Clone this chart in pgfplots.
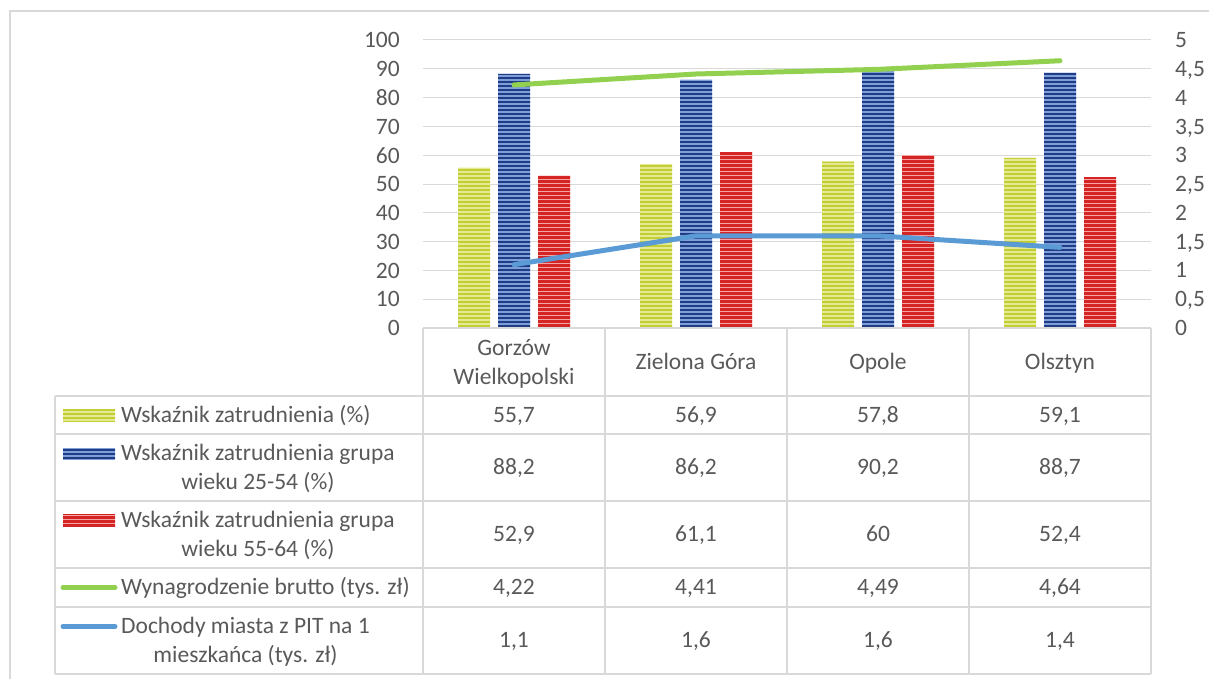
\documentclass[border=0pt]{standalone}
\usepackage{fontspec}
\setmainfont{Carlito}
\usepackage{pgfplots}
\pgfplotsset{compat=1.18}
\usetikzlibrary{patterns}
\definecolor{gridc}{HTML}{D9D9D9}
\definecolor{txt}{HTML}{595959}
\definecolor{yelL}{HTML}{E4EA94}
\definecolor{yelD}{HTML}{C3CE34}
\definecolor{bluL}{HTML}{7E9EDA}
\definecolor{bluD}{HTML}{203C84}
\definecolor{redL}{HTML}{F5A3A3}
\definecolor{redD}{HTML}{D42424}
\definecolor{lgreen}{HTML}{92D050}
\definecolor{lblue}{HTML}{5B9BD5}
\pgfdeclarepatternformonly{stripesA}{\pgfpoint{-1pt}{0pt}}{\pgfpoint{201pt}{4pt}}{\pgfpoint{200pt}{4pt}}{\pgfpathrectangle{\pgfpoint{-1pt}{0pt}}{\pgfpoint{202pt}{2.4pt}}\pgfusepath{fill}}
\pgfdeclarepatternformonly{stripesB}{\pgfpoint{-1pt}{0pt}}{\pgfpoint{201pt}{4pt}}{\pgfpoint{200pt}{4pt}}{\pgfpathrectangle{\pgfpoint{-1pt}{0pt}}{\pgfpoint{202pt}{2.6pt}}\pgfusepath{fill}}
\pgfdeclarepatternformonly{stripesC}{\pgfpoint{-1pt}{0pt}}{\pgfpoint{201pt}{4pt}}{\pgfpoint{200pt}{4pt}}{\pgfpathrectangle{\pgfpoint{-1pt}{0pt}}{\pgfpoint{202pt}{2.3pt}}\pgfusepath{fill}}
\newcommand\tf{\fontsize{23.5}{28}\selectfont}
\tikzset{
 barY/.style={fill=yelL, draw=none, postaction={pattern=stripesA, pattern color=yelD}},
 barB/.style={fill=bluL, draw=none, postaction={pattern=stripesC, pattern color=bluD}},
 barR/.style={fill=redL, draw=none, postaction={pattern=stripesB, pattern color=redD}},
 lnG/.style={draw=lgreen, line width=5pt, line cap=round, line join=round},
 lnB/.style={draw=lblue, line width=5pt, line cap=round, line join=round},
}
\begin{document}
\begin{tikzpicture}
\useasboundingbox (0pt,0pt) rectangle (1209pt,-679pt);
\draw[gridc, line width=1.5pt] (10pt,-679pt) -- (10pt,-11pt) -- (1209pt,-11pt);
\begin{axis}[at={(423pt,-328pt)}, anchor=south west, scale only axis,
  width=728pt, height=288pt, xmin=-0.5, xmax=3.5, ymin=0, ymax=100,
  ytick={0,10,...,100}, xtick=\empty, ymajorgrids,
  grid style={draw=gridc, line width=1pt},
  axis line style={draw=none}, major tick length=0pt,
  ybar=8pt, bar width=32pt,
  /pgf/number format/assume math mode=true,
  yticklabel style={font=\tf, text=txt, inner sep=0pt, anchor=east, xshift=-23pt, text depth=0pt},
  clip=false]
\addplot[barY] coordinates {(0,55.7) (1,56.9) (2,57.8) (3,59.1)};
\addplot[barB] coordinates {(0,88.2) (1,86.2) (2,90.2) (3,88.7)};
\addplot[barR] coordinates {(0,52.9) (1,61.1) (2,60) (3,52.4)};
\end{axis}
\begin{axis}[at={(423pt,-328pt)}, anchor=south west, scale only axis,
  width=728pt, height=288pt, xmin=-0.5, xmax=3.5, ymin=0, ymax=5,
  axis y line*=right, axis x line=none, xtick=\empty,
  axis line style={draw=none}, major tick length=0pt,
  ytick={0,0.5,1,1.5,2,2.5,3,3.5,4,4.5,5},
  yticklabels={0,{0,5},1,{1,5},2,{2,5},3,{3,5},4,{4,5},5},
  yticklabel style={font=\tf, text=txt, inner sep=0pt, anchor=west, xshift=24pt, text depth=0pt},
  clip=false]
\addplot[lnG] coordinates {(0,4.22) (1,4.41) (2,4.49) (3,4.64)};
\addplot[lnB] coordinates {(0,1.1) (1,1.6) (2,1.6) (3,1.4)};
\end{axis}
\begin{scope}[x=1pt,y=-1pt]
\draw[gridc, line width=1.5pt] (423,328) -- (1151,328);
\foreach \yy in {396,434,501,568,607,674} \draw[gridc, line width=1.5pt] (55,\yy) -- (1151,\yy);
\draw[gridc, line width=1.5pt] (55,396) -- (55,674);
\foreach \xx in {423,605,787,969,1151} \draw[gridc, line width=1.5pt] (\xx,328) -- (\xx,674);
% legend keys
\path[barY] (63,409) rectangle (115,421);
\path[barB] (63,447.5) rectangle (115,459.5);
\path[barR] (63,514.5) rectangle (115,526.5);
\draw[lnG] (63,587.5) -- (115,587.5);
\draw[lnB] (63,626.5) -- (115,626.5);
\begin{scope}[every node/.style={font=\tf, text=txt, inner sep=0pt, anchor=base}]
% header
\node at (514,355.5) {Gorzów};
\node at (514,384) {Wielkopolski};
\node at (696,369.5) {Zielona Góra};
\node at (878,369.5) {Opole};
\node at (1060,369.5) {Olsztyn};
% legend texts
\node[anchor=base west] at (121,422) {Wskaźnik zatrudnienia (\%)};
\node[anchor=base west] (r2) at (121,460.5) {Wskaźnik zatrudnienia grupa};
\path (r2.base) ++(0,28.5) node {wieku 25-54 (\%)};
\node[anchor=base west] (r3) at (121,527.5) {Wskaźnik zatrudnienia grupa};
\path (r3.base) ++(0,28.5) node {wieku 55-64 (\%)};
\node[anchor=base west] at (121,594.5) {Wynagrodzenie brutto (tys. zł)};
\node[anchor=base west] (r5) at (121,633.5) {Dochody miasta z PIT na 1};
\path (r5.base) ++(0,28.5) node {mieszkańca (tys. zł)};
% values row 1
\node at (514,422) {55,7}; \node at (696,422) {56,9}; \node at (878,422) {57,8}; \node at (1060,422) {59,1};
% row 2
\node at (514,474.5) {88,2}; \node at (696,474.5) {86,2}; \node at (878,474.5) {90,2}; \node at (1060,474.5) {88,7};
% row 3
\node at (514,541.5) {52,9}; \node at (696,541.5) {61,1}; \node at (878,541.5) {60}; \node at (1060,541.5) {52,4};
% row 4
\node at (514,594.5) {4,22}; \node at (696,594.5) {4,41}; \node at (878,594.5) {4,49}; \node at (1060,594.5) {4,64};
% row 5
\node at (514,647.5) {1,1}; \node at (696,647.5) {1,6}; \node at (878,647.5) {1,6}; \node at (1060,647.5) {1,4};
\end{scope}
\end{scope}
\end{tikzpicture}
\end{document}
